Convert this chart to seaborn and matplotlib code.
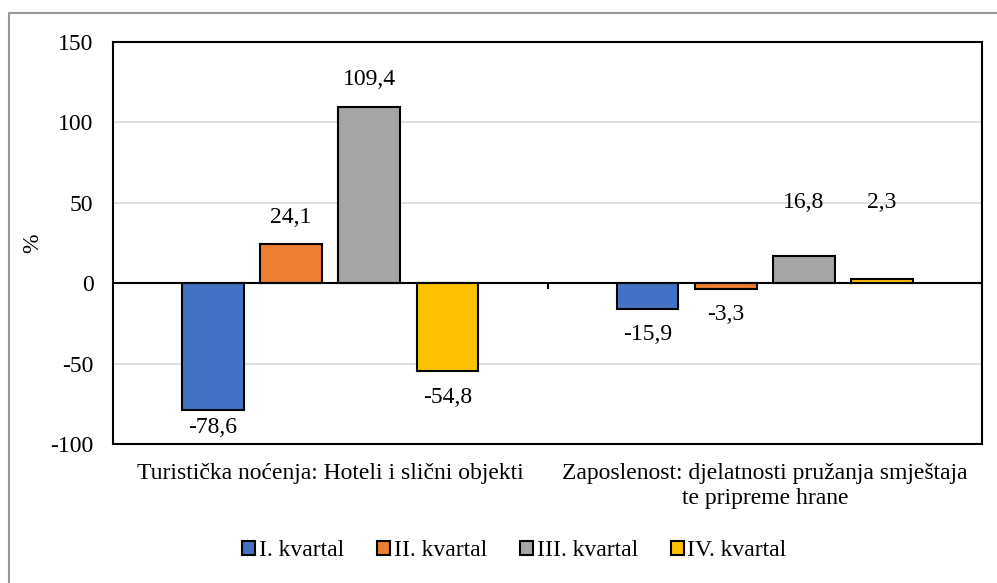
import numpy as np
import pandas as pd
import seaborn as sns
import matplotlib.pyplot as plt
from matplotlib.patches import Rectangle

# Data
categories = ['Turistička noćenja: Hoteli i slični objekti',
              'Zaposlenost: djelatnosti pružanja smještaja\nte pripreme hrane']
quarters = ['I. kvartal', 'II. kvartal', 'III. kvartal', 'IV. kvartal']
q1 = [-78.6, -15.9]
q2 = [24.1, -3.3]
q3 = [109.4, 16.8]
q4 = [-54.8, 2.3]
colors = ['#4472C4', '#ED7D31', '#A5A5A5', '#FFC000']

rows = []
for q, vals in zip(quarters, [q1, q2, q3, q4]):
    for c, v in zip(categories, vals):
        rows.append({'kategorija': c, 'kvartal': q, 'vrijednost': v})
df = pd.DataFrame(rows)

sns.set_theme(style='white')
plt.rcParams['font.family'] = ['Liberation Serif', 'DejaVu Serif']
plt.rcParams['axes.unicode_minus'] = False
plt.rcParams['text.color'] = 'black'
plt.rcParams['axes.labelcolor'] = 'black'
fs = 17

fig = plt.figure(figsize=(9.97, 5.83), dpi=100)
ax = fig.add_axes([0.1133, 0.2384, 0.8717, 0.6896])

sns.barplot(data=df, x='kategorija', y='vrijednost', hue='kvartal',
            hue_order=quarters, palette=colors, saturation=1,
            width=0.72, gap=0.21, edgecolor='black', linewidth=1.5,
            ax=ax, legend=True, zorder=3)

ax.set_ylim(-100, 150)
ax.set_yticks(np.arange(-100, 151, 50))
ax.set_xlim(-0.5, 1.5)
ax.yaxis.grid(True, color='#d9d9d9', linewidth=1.2, zorder=0)
ax.set_axisbelow(True)
ax.axhline(0, color='black', linewidth=1.5, zorder=4)
ax.vlines(0.5, -3.5, 0, color='black', linewidth=1.5, zorder=4)

for sp in ax.spines.values():
    sp.set_color('black')
    sp.set_linewidth(1.5)

ax.tick_params(axis='y', labelsize=fs, labelcolor='black', length=0, pad=14)
ax.tick_params(axis='x', labelsize=fs, labelcolor='black', length=0, pad=14)
ax.set_xlabel('')
ax.set_ylabel('%', fontsize=fs, labelpad=5)

# value labels (Excel-style, outside end)
for cont in ax.containers:
    for bar in cont:
        h = bar.get_height()
        x = bar.get_x() + bar.get_width() / 2
        lbl = f'{h:.1f}'.replace('.', ',')
        if h >= 0:
            y = h + 17 if x < 0.5 else max(h + 17, 50)
        else:
            y = max(h - 16, -89.5)
        ax.text(x, y, lbl, ha='center', va='center', fontsize=fs, color='black')

leg = ax.legend(loc='center', bbox_to_anchor=(0.462, -0.265), ncol=4,
                frameon=False, fontsize=fs, handlelength=0.55, handleheight=0.55,
                handletextpad=0.15, columnspacing=1.4)
for h in leg.legend_handles:
    h.set_edgecolor('black')
    h.set_linewidth(1.5)

# outer chart border (Excel-style)
fig.patches.append(Rectangle((9 / 997, -0.05), 1.2, 1 - 13 / 583 + 0.05,
                             transform=fig.transFigure, fill=False,
                             edgecolor='#999999', linewidth=1.5))

fig.savefig('out.png', dpi=100)
